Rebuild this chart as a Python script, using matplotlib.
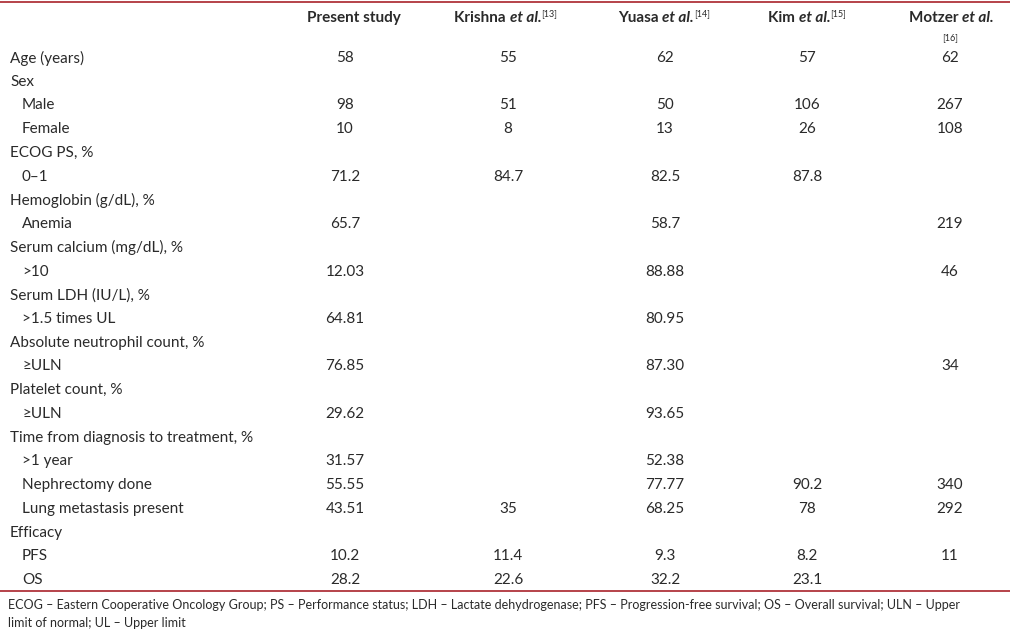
import matplotlib
matplotlib.use("Agg")
import matplotlib.pyplot as plt

# ---------------- data ----------------
row_labels = ["Age (years)", "Sex", "Male", "Female", "ECOG PS, %", "0\u20131",
              "Hemoglobin (g/dL), %", "Anemia", "Serum calcium (mg/dL), %", ">10",
              "Serum LDH (IU/L), %", ">1.5 times UL", "Absolute neutrophil count, %",
              "\u2265ULN", "Platelet count, %", "\u2265ULN",
              "Time from diagnosis to treatment, %", ">1 year", "Nephrectomy done",
              "Lung metastasis present", "Efficacy", "PFS", "OS"]
row_indent = [0, 0, 1, 1, 0, 1, 0, 1, 0, 1, 0, 1, 0, 1, 0, 1, 0, 1, 1, 1, 0, 1, 1]

present_study = ["58", "", "98", "10", "", "71.2", "", "65.7", "", "12.03", "", "64.81",
                 "", "76.85", "", "29.62", "", "31.57", "55.55", "43.51", "", "10.2", "28.2"]
krishna = ["55", "", "51", "8", "", "84.7", "", "", "", "", "", "",
           "", "", "", "", "", "", "", "35", "", "11.4", "22.6"]
yuasa = ["62", "", "50", "13", "", "82.5", "", "58.7", "", "88.88", "", "80.95",
         "", "87.30", "", "93.65", "", "52.38", "77.77", "68.25", "", "9.3", "32.2"]
kim = ["57", "", "106", "26", "", "87.8", "", "", "", "", "", "",
       "", "", "", "", "", "", "90.2", "78", "", "8.2", "23.1"]
motzer = ["62", "", "267", "108", "", "", "", "219", "", "46", "", "",
          "", "34", "", "", "", "", "340", "292", "", "11", ""]

col_names = ["Krishna", "Yuasa", "Kim", "Motzer"]
col_refs = ["[13]", "[14]", "[15]", "[16]"]

footnote = ("ECOG \u2013 Eastern Cooperative Oncology Group; PS \u2013 Performance status; "
            "LDH \u2013 Lactate dehydrogenase; PFS \u2013 Progression-free survival; "
            "OS \u2013 Overall survival; ULN \u2013 Upper\nlimit of normal; UL \u2013 Upper limit")

# ---------------- layout ----------------
W, H = 1010, 629
fig = plt.figure(figsize=(W / 100, H / 100), dpi=100)
fig.patch.set_facecolor("white")
FONT = "Lato"
FS = 11
TXT = "#2a2a2a"
RED = "#b0343c"


def fx(x):
    return x / W


def fy(y):
    return 1 - y / H


# lines
fig.add_artist(plt.Line2D([0, 1], [fy(2), fy(2)], color=RED, lw=1.3))
fig.add_artist(plt.Line2D([0, 1], [fy(591), fy(591)], color=RED, lw=1.3))

renderer = fig.canvas.get_renderer()


def pieces(x_center, y, parts):
    """parts: list of (text, weight, style, size, dy)"""
    arts = []
    widths = []
    for t, w, s, sz, dy in parts:
        a = fig.text(0, fy(y + dy), t, fontsize=sz, fontweight=w, fontstyle=s,
                     family=FONT, color=TXT, va="center", ha="left")
        bb = a.get_window_extent(renderer)
        arts.append(a)
        widths.append(bb.width)
    total = sum(widths)
    x = x_center - total / 2
    for a, wd in zip(arts, widths):
        a.set_x(fx(x))
        x += wd


# header
fig.text(fx(354), fy(18), "Present study", fontsize=FS, fontweight="bold",
         family=FONT, color=TXT, ha="center", va="center")
hdr_x = [506, 664, 807]
for xc, name, ref in zip(hdr_x, col_names[:3], col_refs[:3]):
    pieces(xc, 18, [(name + " ", "bold", "normal", FS, 0),
                    ("et al.", "bold", "italic", FS, 0),
                    (ref, "normal", "normal", 6.5, -4)])
pieces(951, 18, [(col_names[3] + " ", "bold", "normal", FS, 0),
                 ("et al.", "bold", "italic", FS, 0)])
fig.text(fx(950), fy(38), col_refs[3], fontsize=6.5, family=FONT, color=TXT,
         ha="center", va="center")

# body
row_y0 = 58
row_dy = (580 - 58) / 22
col_x = [345, 508, 665, 807, 950]
cols = [present_study, krishna, yuasa, kim, motzer]
for i, (lab, ind) in enumerate(zip(row_labels, row_indent)):
    y = row_y0 + i * row_dy
    fig.text(fx(10 + 12 * ind), fy(y), lab, fontsize=FS, family=FONT, color=TXT,
             ha="left", va="center")
    for xc, col in zip(col_x, cols):
        if col[i]:
            fig.text(fx(xc), fy(y), col[i], fontsize=FS, family=FONT, color=TXT,
                     ha="center", va="center")

fig.text(fx(8), fy(599), footnote, fontsize=9, family=FONT,
         color=TXT, ha="left", va="top", linespacing=1.6)

fig.savefig("out.png", dpi=100, facecolor="white")
